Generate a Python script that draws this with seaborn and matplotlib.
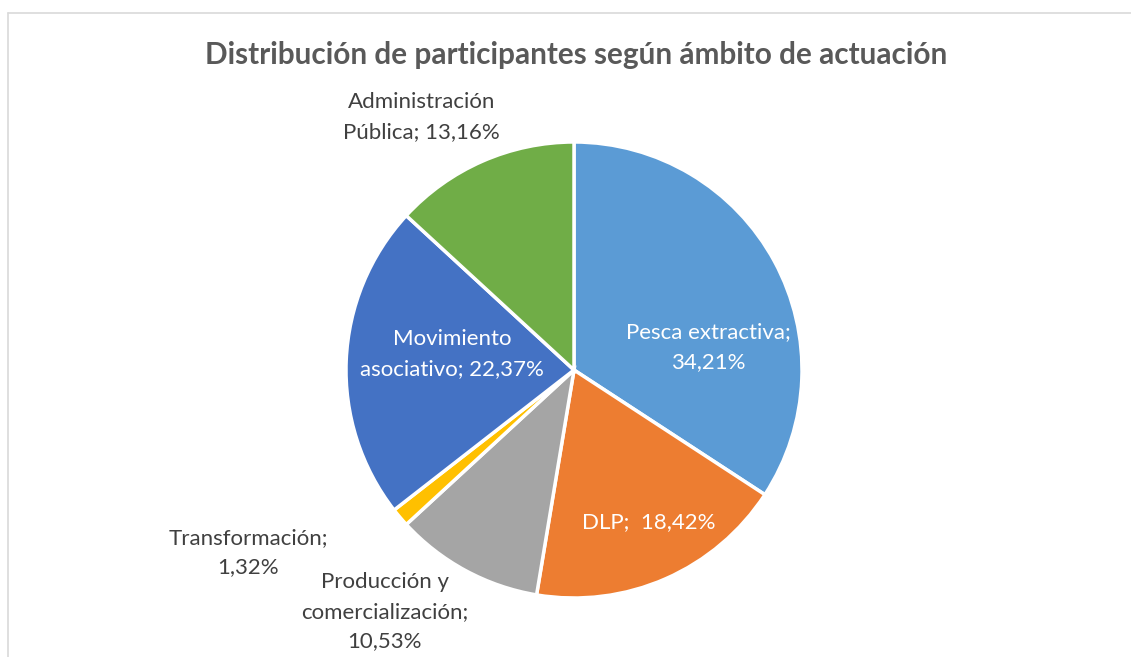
import matplotlib
matplotlib.use("Agg")
import matplotlib.pyplot as plt
from matplotlib.lines import Line2D
import seaborn as sns

sns.set_theme(style="white")
plt.rcParams['font.family'] = ['Lato', 'DejaVu Sans']

categorias = ['Pesca extractiva', 'DLP', 'Producción y comercialización',
              'Transformación', 'Movimiento asociativo', 'Administración Pública']
porcentajes = [34.21, 18.42, 10.53, 1.32, 22.37, 13.16]
colores = ['#5B9BD5', '#ED7D31', '#A5A5A5', '#FFC000', '#4472C4', '#70AD47']

etiquetas = ['Pesca extractiva;\n34,21%', 'DLP;  18,42%', 'Producción y\ncomercialización;\n10,53%',
             'Transformación;\n1,32%', 'Movimiento\nasociativo; 22,37%', 'Administración\nPública; 13,16%']
pos_etiquetas = [(0.59, 0.10), (0.33, -0.667), (-0.83, -1.061), (-1.43, -0.80), (-0.535, 0.07), (-0.67, 1.11)]
color_texto = ['white', 'white', '#404040', '#404040', 'white', '#404040']

fig = plt.figure(figsize=(11.31, 6.57), dpi=100)
cx, cy, r = 574, 370, 228
ax = fig.add_axes([(cx - r) / 1131, (657 - cy - r) / 657, 2 * r / 1131, 2 * r / 657])
ax.pie(porcentajes, colors=colores, startangle=90, counterclock=False, radius=1,
       wedgeprops={'edgecolor': 'white', 'linewidth': 2.5})
ax.set_xlim(-1, 1)
ax.set_ylim(-1, 1)
ax.set_aspect('equal')
ax.axis('off')

for texto, (x, y), c in zip(etiquetas, pos_etiquetas, color_texto):
    ax.text(x, y, texto, ha='center', va='center', color=c, fontsize=16,
            linespacing=1.6, clip_on=False)

fig.text(576 / 1131, 1 - 55 / 657, 'Distribución de participantes según ámbito de actuación',
         ha='center', va='center', fontsize=21.4, fontweight='bold', color='#595959')

fig.add_artist(Line2D([8 / 1131, 1], [1 - 13 / 657, 1 - 13 / 657], color='#D9D9D9', lw=1.2))
fig.add_artist(Line2D([8 / 1131, 8 / 1131], [0, 1 - 13 / 657], color='#D9D9D9', lw=1.2))

fig.savefig('out.png', dpi=100, facecolor='white')
